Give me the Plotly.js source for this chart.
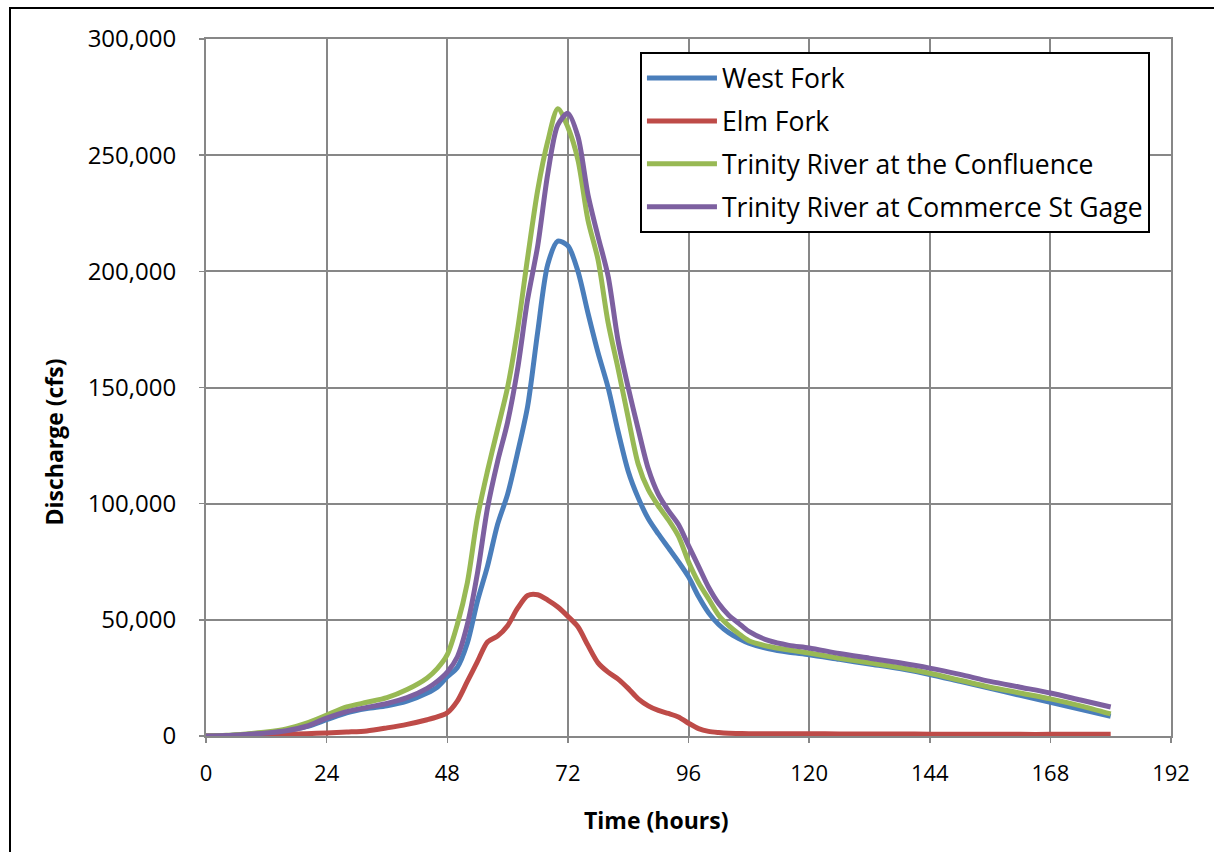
<!DOCTYPE html>
<html>
<head>
<meta charset="utf-8">
<script src="https://cdn.plot.ly/plotly-3.0.1.min.js"></script>
<style>
  html, body { margin: 0; padding: 0; background: #fff; }
  #chart { width: 1214px; height: 852px; position: absolute; left: 0; top: 0; }
  #frame { position: absolute; left: 9px; top: 7px; width: 1300px; height: 1000px;
           border-left: 2px solid #000; border-top: 2px solid #000; pointer-events: none; z-index: 5; }
</style>
</head>
<body>
<div id="chart"></div>
<div id="frame"></div>
<script>
// Time (hours)
const hours = [0, 4, 8, 12, 16, 20, 24, 28, 32, 36, 40, 44, 46, 48, 50, 52, 54, 56, 58, 60, 62, 64, 66, 68, 70, 72, 74, 76, 78, 80, 82, 84, 86, 88, 90, 92, 94, 96, 98, 100, 102, 104, 106, 108, 112, 116, 120, 126, 132, 138, 144, 150, 156, 162, 168, 174, 180];

// Discharge (cfs)
const westFork = [0, 200, 700, 1300, 2300, 4000, 7000, 10000, 11800, 13000, 15000, 18500, 21000, 25500, 29500, 40000, 58000, 73000, 91000, 104000, 122000, 142000, 174000, 203000, 213000, 211000, 200000, 182000, 165000, 150000, 131000, 114000, 102500, 93500, 87000, 81000, 75000, 68500, 60000, 53000, 48000, 44500, 42000, 40000, 37500, 36000, 35000, 33000, 31000, 29000, 26500, 23500, 20500, 17500, 14500, 11500, 8500];

const elmFork = [0, 50, 150, 400, 700, 1000, 1300, 1700, 2200, 3500, 5000, 7000, 8200, 10000, 15000, 23500, 32000, 40500, 43000, 47500, 55000, 60500, 60800, 58500, 55500, 51500, 47000, 39000, 31500, 27500, 24500, 20500, 16000, 13000, 11000, 9700, 8200, 5500, 3200, 2000, 1500, 1200, 1100, 1000, 1000, 1000, 1000, 900, 900, 900, 800, 800, 800, 700, 700, 700, 700];

const trinityConfluence = [0, 300, 900, 1700, 3000, 5500, 9000, 12500, 14500, 16500, 20000, 25000, 29000, 35000, 48000, 66000, 94000, 114000, 132000, 150000, 175000, 206000, 235000, 256000, 270000, 262000, 248000, 222000, 205000, 178000, 158000, 137000, 117000, 106000, 99000, 93000, 86000, 75000, 66000, 59000, 52000, 47500, 44000, 41000, 38500, 37000, 35700, 33500, 31500, 29500, 27000, 24000, 21000, 18500, 16000, 13000, 9500];

const trinityCommerce = [0, 200, 700, 1300, 2300, 4200, 7700, 10500, 12300, 14000, 16500, 20500, 23500, 27500, 34000, 48000, 70000, 98000, 118000, 135000, 158000, 188000, 211000, 242000, 263000, 268000, 258000, 233000, 215000, 198000, 170000, 150000, 132000, 115000, 104000, 97000, 91000, 82000, 73000, 64000, 57000, 52000, 48500, 45000, 41000, 39000, 37900, 35500, 33500, 31500, 29200, 26500, 23500, 21000, 18500, 15500, 12500];

const seriesNames = ["West Fork", "Elm Fork", "Trinity River at the Confluence", "Trinity River at Commerce St Gage"];
const seriesColors = ["#4A7EBB", "#BE4B48", "#98B954", "#7D60A0"];
const seriesValues = [westFork, elmFork, trinityConfluence, trinityCommerce];

const xTicks = [0, 24, 48, 72, 96, 120, 144, 168, 192];
const yTicks = [0, 50000, 100000, 150000, 200000, 250000, 300000];

const FONT = "'Open Sans', Lato, sans-serif";
const GRID = "#878787";

const traces = seriesValues.map((vals, i) => ({
  type: "scatter",
  mode: "lines",
  name: seriesNames[i],
  legendgroup: "g" + i,
  x: hours,
  y: vals,
  line: { color: seriesColors[i], width: 5, shape: "spline", smoothing: 0.8 },
  hoverinfo: "skip"
}));

const layout = {
  width: 1214,
  height: 852,
  margin: { l: 206, r: 43, t: 39, b: 116 },
  paper_bgcolor: "rgba(0,0,0,0)",
  plot_bgcolor: "#ffffff",
  showlegend: true,
  font: { family: FONT, color: "#000", size: 22 },
  xaxis: {
    range: [0, 192],
    tickvals: xTicks,
    ticktext: xTicks.map(String),
    showgrid: true, gridcolor: GRID, gridwidth: 2,
    showline: true, linecolor: GRID, linewidth: 2, mirror: true,
    zeroline: false,
    ticks: "outside", ticklen: 5, tickcolor: GRID, tickwidth: 1.5,
    ticklabelstandoff: 12,
    tickfont: { family: FONT, size: 22, color: "#000" },
    fixedrange: true
  },
  yaxis: {
    range: [0, 300000],
    tickvals: yTicks,
    ticktext: yTicks.map(v => v.toLocaleString("en-US")),
    showgrid: true, gridcolor: GRID, gridwidth: 2,
    showline: true, linecolor: GRID, linewidth: 2, mirror: true,
    zeroline: false,
    ticks: "outside", ticklen: 5, tickcolor: GRID, tickwidth: 1.5,
    ticklabelstandoff: 18,
    tickfont: { family: FONT, size: 24, color: "#000" },
    fixedrange: true
  },
  legend: {
    x: 0.4497, y: 0.981, xanchor: "left", yanchor: "top",
    bgcolor: "#ffffff",
    bordercolor: "#000000", borderwidth: 2,
    font: { family: FONT, size: 26.5, color: "#000" },
    tracegroupgap: 5.5,
    itemwidth: 70,
    traceorder: "grouped"
  },
  annotations: [
    {
      text: "<b>Time (hours)</b>",
      xref: "paper", yref: "paper",
      x: 0.466, y: -0.12, xanchor: "center", yanchor: "middle",
      showarrow: false,
      font: { family: FONT, size: 23, color: "#000" }
    },
    {
      text: "<b>Discharge (cfs)</b>",
      xref: "paper", yref: "paper",
      x: -0.158, y: 0.4218, xanchor: "center", yanchor: "middle",
      textangle: -90,
      showarrow: false,
      font: { family: FONT, size: 23, color: "#000" }
    }
  ],
  hovermode: false
};

Plotly.newPlot("chart", traces, layout, { displayModeBar: false, staticPlot: true });
</script>
</body>
</html>
